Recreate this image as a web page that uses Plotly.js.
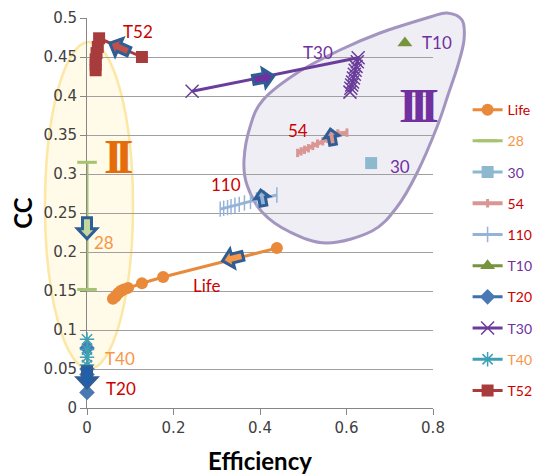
<!DOCTYPE html>
<html>
<head>
<meta charset="utf-8">
<script src="https://cdn.plot.ly/plotly-3.0.1.min.js"></script>
<style>html,body{margin:0;padding:0;background:#fff;}#chart{width:534px;height:475px;}</style>
</head>
<body>
<div id="chart"></div>
<script>
// ---- data ----
const lifeX = [0.439, 0.176, 0.127, 0.095, 0.085, 0.078, 0.072, 0.066, 0.060];
const lifeY = [0.205, 0.168, 0.160, 0.154, 0.152, 0.150, 0.147, 0.143, 0.140];
const s28X = [0, 0];
const s28Y = [0.315, 0.152];
const s30X = [0.657];
const s30Y = [0.314];
const s54X = [0.487, 0.495, 0.503, 0.512, 0.522, 0.533, 0.545, 0.556, 0.566, 0.580, 0.601];
const s54Y = [0.327, 0.329, 0.331, 0.333, 0.336, 0.339, 0.342, 0.345, 0.347, 0.352, 0.353];
const s110X = [0.308, 0.316, 0.325, 0.333, 0.342, 0.352, 0.364, 0.378, 0.392, 0.410, 0.439];
const s110Y = [0.255, 0.256, 0.257, 0.258, 0.260, 0.261, 0.263, 0.265, 0.267, 0.269, 0.273];
const t10X = [0.735];
const t10Y = [0.468];
const t20X = [0, 0, 0, 0];
const t20Y = [0.077, 0.050, 0.043, 0.020];
const t30X = [0.243, 0.627, 0.625, 0.622, 0.620, 0.618, 0.616, 0.614, 0.612, 0.610, 0.608];
const t30Y = [0.406, 0.449, 0.444, 0.438, 0.433, 0.428, 0.423, 0.418, 0.414, 0.410, 0.405];
const t40X = [0, 0, 0, 0];
const t40Y = [0.088, 0.075, 0.065, 0.055];
const t52X = [0.127, 0.028, 0.025, 0.022, 0.020, 0.020, 0.020];
const t52Y = [0.450, 0.474, 0.463, 0.455, 0.447, 0.440, 0.433];

const xTickVals = [0, 0.2, 0.4, 0.6, 0.8];
const xTickText = ['0', '0.2', '0.4', '0.6', '0.8'];
const yTickVals = [0, 0.05, 0.1, 0.15, 0.2, 0.25, 0.3, 0.35, 0.4, 0.45, 0.5];
const yTickText = ['0', '0.05', '0.1', '0.15', '0.2', '0.25', '0.3', '0.35', '0.4', '0.45', '0.5'];

// trajectory arrows (annotations)
const arrowX = [0.076, 0.407, 0.566, 0.405, 0, 0.338, 0];
const arrowY = [0.462, 0.423, 0.347, 0.269, 0.231, 0.192, 0.040];
const arrowAngle = [156, 11, 100, 100, 270, 194, 270];
const arrowFill = ['#C0504D', '#7030A0', '#D99694', '#95B3D7', '#C3D69B', '#F79646', '#1F5FAD'];
const arrowScale = [1, 1, 0.75, 0.75, 1, 1, 1];

// ---- styling ----
const RED = '#CC0000', PURPLE = '#7030A0', ORANGE = '#F79646';
const lab = (t, c) => '<span style="color:' + c + '">' + t + '</span>';

function tr(name, col, x, y, mode, marker, lineW, extra) {
  return Object.assign({
    type: 'scatter', x: x, y: y, mode: mode, name: name, legendgroup: name,
    line: {color: col, width: lineW}, marker: marker, cliponaxis: false, hoverinfo: 'skip'
  }, extra || {});
}

const traces = [
  tr(lab('Life', RED), '#E9893A', lifeX, lifeY, 'lines+markers', {symbol: 'circle', size: 12, color: '#E9893A'}, 3),
  tr(lab('28', ORANGE), '#A6C36F', s28X, s28Y, 'lines+markers', {symbol: 'line-ew', size: 14, line: {color: '#A6C36F', width: 3}}, 3),
  tr(lab('30', PURPLE), '#8DB8CE', s30X, s30Y, 'lines+markers', {symbol: 'square', size: 12, color: '#8DB8CE'}, 3),
  tr(lab('54', RED), '#D99694', s54X, s54Y, 'lines+markers', {symbol: 'line-ns', size: 6, line: {color: '#D99694', width: 3}}, 4),
  tr(lab('110', RED), '#95B3D7', s110X, s110Y, 'lines+markers', {symbol: 'line-ns', size: 11, line: {color: '#95B3D7', width: 1.5}}, 3),
  tr(lab('T10', PURPLE), '#77933C', t10X, t10Y, 'lines+markers', {symbol: 'triangle-up', size: 13, color: '#77933C'}, 3),
  tr(lab('T20', RED), '#3E6FAF', t20X, t20Y, 'lines+markers', {symbol: 'diamond', size: 12, color: '#4A78B5'}, 3),
  tr(lab('T30', PURPLE), '#6A3D9A', t30X, t30Y, 'lines+markers', {symbol: 'x-thin-open', size: 13, line: {color: '#8064A2', width: 1.5}}, 3),
  tr(lab('T40', ORANGE), '#3FA0B5', t40X, t40Y, 'lines+markers', {symbol: 'asterisk-open', size: 12, line: {color: '#3FA0B5', width: 1.5}}, 3),
  tr(lab('T52', RED), '#A83C3C', t52X, t52Y, 'lines+markers', {symbol: 'square', size: 12, color: '#A83C3C'}, 3)
];

// plot area geometry (pixels) for paper-coordinate conversion of decorations
const PL = 87, PR = 433, PT = 18, PB = 408;
const px2paperX = p => (p - PL) / (PR - PL);
const px2paperY = p => (PB - p) / (PB - PT);

// region III outline (pixel points of the hand-drawn blob)
const blobPts = [[447,13],[462,20],[464,40],[458,65],[448,95],[437,127],[417,173],[397,207],[372,231],[327,243],[290,232],[262,212],[247,185],[244,160],[250,127],[263,100],[297,73],[340,50],[380,33],[430,17]];
function smoothClosed(pts) {
  const P = pts.map(p => [px2paperX(p[0]), px2paperY(p[1])]);
  const n = P.length;
  let d = 'M' + P[0][0] + ',' + P[0][1];
  for (let i = 0; i < n; i++) {
    const p0 = P[(i - 1 + n) % n], p1 = P[i], p2 = P[(i + 1) % n], p3 = P[(i + 2) % n];
    const c1 = [p1[0] + (p2[0] - p0[0]) / 6, p1[1] + (p2[1] - p0[1]) / 6];
    const c2 = [p2[0] - (p3[0] - p1[0]) / 6, p2[1] - (p3[1] - p1[1]) / 6];
    d += ' C' + c1[0] + ',' + c1[1] + ' ' + c2[0] + ',' + c2[1] + ' ' + p2[0] + ',' + p2[1];
  }
  return d + ' Z';
}

function arrowPath(angle, s) {
  const base = [[-10,-4.5],[1,-4.5],[1,-9.5],[11,0],[1,9.5],[1,4.5],[-10,4.5]];
  const a = angle * Math.PI / 180, c = Math.cos(a), sn = Math.sin(a);
  return 'M' + base.map(p => {
    const x = p[0] * s, y = p[1] * s;
    return (x * c - y * sn).toFixed(2) + ',' + (x * sn + y * c).toFixed(2);
  }).join(' L') + ' Z';
}

const shapes = [
  {type: 'circle', xref: 'paper', yref: 'paper', x0: px2paperX(45), x1: px2paperX(133), y0: px2paperY(369), y1: px2paperY(42),
   fillcolor: '#FFFBE8', line: {color: '#FDE7A4', width: 2.5}, layer: 'below'},
  {type: 'path', xref: 'paper', yref: 'paper', path: smoothClosed(blobPts),
   fillcolor: '#F0EEF5', line: {color: '#A395C0', width: 3}, layer: 'below'}
];
for (let i = 0; i < arrowX.length; i++) {
  shapes.push({type: 'path', xref: 'paper', yref: 'paper', xsizemode: 'pixel', ysizemode: 'pixel',
    xanchor: arrowX[i] / 0.8, yanchor: arrowY[i] / 0.5, path: arrowPath(arrowAngle[i], arrowScale[i]),
    fillcolor: arrowFill[i], line: {color: '#2F5E95', width: 3}, layer: 'above'});
}

const LF = 'Lato, "Open Sans", sans-serif';
function note(text, pxX, pxY, color, size, family) {
  return {xref: 'paper', yref: 'paper', x: px2paperX(pxX), y: px2paperY(pxY), text: text, showarrow: false,
    xanchor: 'center', yanchor: 'middle', font: {family: family || LF, size: size || 17, color: color}};
}
const SERIF = '"Liberation Serif", "DejaVu Serif", serif';
const annotations = [
  note('T52', 138, 32, RED), note('T30', 318, 52, PURPLE), note('T10', 437, 42, PURPLE),
  note('54', 298, 130, RED), note('30', 400, 166, PURPLE), note('110', 226, 184, RED),
  note('28', 104, 243, ORANGE), note('Life', 206, 285, RED), note('T40', 120, 358, ORANGE),
  note('T20', 121, 388, RED),
  note('<b><span style="letter-spacing:-8px">II</span></b>', 118, 157, '#E46C0A', 48, SERIF),
  note('<b><span style="letter-spacing:-8px">III</span></b>', 418, 106, PURPLE, 48, SERIF)
];

const axisCommon = {showline: true, linecolor: '#868686', linewidth: 1, ticks: 'outside', ticklen: 6, tickcolor: '#868686',
  tickfont: {family: '"DejaVu Sans", Verdana, sans-serif', size: 15, color: '#404040'}, zeroline: false, layer: 'below traces'};

const layout = {
  width: 534, height: 475, margin: {l: PL, r: 534 - PR, t: PT, b: 475 - PB, autoexpand: false},
  paper_bgcolor: '#ffffff', plot_bgcolor: 'rgba(0,0,0,0)', showlegend: true,
  xaxis: Object.assign({}, axisCommon, {range: [0, 0.8], tickvals: xTickVals, ticktext: xTickText, showgrid: false,
    title: {text: '<b>Efficiency</b>', font: {family: LF, size: 24, color: '#000'}, standoff: 19}, automargin: false}),
  yaxis: Object.assign({}, axisCommon, {range: [0, 0.5], tickvals: yTickVals, ticktext: yTickText, showgrid: true,
    gridcolor: '#A0A0A0', gridwidth: 1,
    title: {text: '<b>CC</b>', font: {family: LF, size: 24, color: '#000'}, standoff: 4}, automargin: false}),
  legend: {x: 1.1, xanchor: 'left', y: 0.805, yanchor: 'top', tracegroupgap: 10, bgcolor: 'rgba(0,0,0,0)',
    font: {family: LF, size: 14}, itemwidth: 30},
  shapes: shapes, annotations: annotations
};

Plotly.newPlot('chart', traces, layout, {displayModeBar: false, staticPlot: true});
</script>
</body>
</html>
